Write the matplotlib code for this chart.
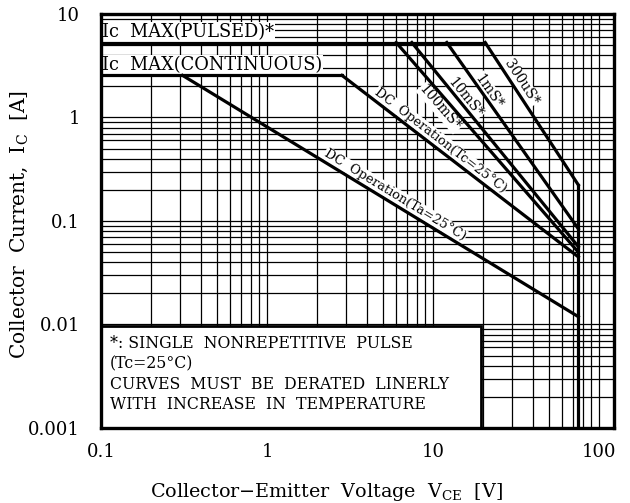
import math

import matplotlib
matplotlib.use("Agg")
import matplotlib.pyplot as plt
from matplotlib.patches import Rectangle
from matplotlib.ticker import FixedLocator, NullFormatter

plt.rcParams["font.family"] = ["DejaVu Serif", "DejaVu Sans"]

# safe operating area
vceo = 75.0            # V, vertical limit
ic_pulsed = 5.3        # A
ic_cont = 2.55         # A

pulse_names = ["100mS*", "10mS*", "1mS*", "300uS*"]
pulse_start_v = [6.0, 7.45, 12.1, 20.6]
pulse_end_i = [0.050, 0.0565, 0.084, 0.223]
pulse_label_x = [11.0, 15.6, 21.7, 33.9]
pulse_label_y = [1.24, 1.54, 1.80, 2.20]

dc_names = ["DC  Operation(Tc=25°C)", "DC  Operation(Ta=25°C)"]
dc_start_v = [2.83, 0.31]
dc_end_i = [0.045, 0.0119]
dc_label_x = [11.1, 5.9]
dc_label_y = [0.60, 0.178]

x_ticks = [0.1, 1, 10, 100]
x_labels = ["0.1", "1", "10", "100"]
y_ticks = [0.001, 0.01, 0.1, 1, 10]
y_labels = ["0.001", "0.01", "0.1", "1", "10"]

note = ("*: SINGLE  NONREPETITIVE  PULSE\n"
        "(Tc=25°C)\n"
        "CURVES  MUST  BE  DERATED  LINERLY\n"
        "WITH  INCREASE  IN  TEMPERATURE")


def main():
    fig = plt.figure(figsize=(6.3, 5.03), dpi=100)
    ax = fig.add_axes([0.1603, 0.1491, 0.8143, 0.8231])
    ax.set_xscale("log")
    ax.set_yscale("log")
    ax.set_xlim(0.1, 123)
    ax.set_ylim(0.001, 10)

    # grid
    minors = [m * 10.0 ** e for e in range(-4, 3) for m in range(1, 10)]
    ax.xaxis.set_minor_locator(FixedLocator(minors))
    ax.yaxis.set_minor_locator(FixedLocator(minors))
    ax.xaxis.set_minor_formatter(NullFormatter())
    ax.yaxis.set_minor_formatter(NullFormatter())
    ax.grid(True, which="both", color="black", lw=0.9, zorder=1)
    ax.set_axisbelow(True)

    ax.set_xticks(x_ticks)
    ax.set_xticklabels(x_labels)
    ax.set_yticks(y_ticks)
    ax.set_yticklabels(y_labels)
    ax.tick_params(which="both", length=0)
    ax.tick_params(axis="x", pad=11, labelsize=13)
    ax.tick_params(axis="y", pad=15, labelsize=13)
    for s in ax.spines.values():
        s.set_linewidth(2.4)
        s.set_zorder(6)

    lw = 2.3
    # current limits
    ax.plot([0.1, pulse_start_v[-1]], [ic_pulsed, ic_pulsed], color="black", lw=lw, zorder=4)
    ax.plot([0.1, dc_start_v[0]], [ic_cont, ic_cont], color="black", lw=lw, zorder=4)
    ax.plot([vceo, vceo], [max(pulse_end_i), 0.001], color="black", lw=lw, zorder=4)

    def angle(x0, y0, x1, y1):
        p0 = ax.transData.transform((x0, y0))
        p1 = ax.transData.transform((x1, y1))
        return math.degrees(math.atan2(p1[1] - p0[1], p1[0] - p0[0]))

    box = dict(facecolor="white", edgecolor="none", pad=0.5)

    for name, v0, i1, lx, ly in zip(pulse_names, pulse_start_v, pulse_end_i,
                                    pulse_label_x, pulse_label_y):
        ax.plot([v0, vceo], [ic_pulsed, i1], color="black", lw=lw, zorder=4)
        ax.text(lx, ly, name, rotation=angle(v0, ic_pulsed, vceo, i1),
                ha="center", va="center", fontsize=10, bbox=box, zorder=3,
                rotation_mode="anchor")

    for name, v0, i1, lx, ly in zip(dc_names, dc_start_v, dc_end_i,
                                    dc_label_x, dc_label_y):
        ax.plot([v0, vceo], [ic_cont, i1], color="black", lw=lw, zorder=4)
        ax.text(lx, ly, name, rotation=angle(v0, ic_cont, vceo, i1),
                ha="center", va="center", fontsize=9.3, bbox=box, zorder=3,
                rotation_mode="anchor")

    ax.annotate("Ic  MAX(PULSED)*", (0.1, ic_pulsed), xytext=(1, 1),
                textcoords="offset points", ha="left", va="bottom",
                fontsize=12.8, bbox=box, zorder=3)
    ax.annotate("Ic  MAX(CONTINUOUS)", (0.1, ic_cont), xytext=(1, 1),
                textcoords="offset points", ha="left", va="bottom",
                fontsize=12.8, bbox=box, zorder=3)

    # note box
    ax.add_patch(Rectangle((0, 0), 0.741, 0.246, transform=ax.transAxes,
                           facecolor="white", edgecolor="black", lw=2.0, zorder=5))
    ax.text(0.017, 0.224, note, transform=ax.transAxes, ha="left", va="top",
            fontsize=11.3, linespacing=1.25, zorder=6)

    ax.set_xlabel("Collector\u2212Emitter  Voltage  V$_\\mathregular{CE}$  [V]", fontsize=13.8)
    ax.set_ylabel("Collector  Current,  I$_\\mathregular{C}$  [A]", fontsize=14.5)
    ax.xaxis.set_label_coords(0.439, -0.128)
    ax.yaxis.set_label_coords(-0.138, 0.49)

    fig.savefig("out.png", dpi=100)


if __name__ == "__main__":
    main()
